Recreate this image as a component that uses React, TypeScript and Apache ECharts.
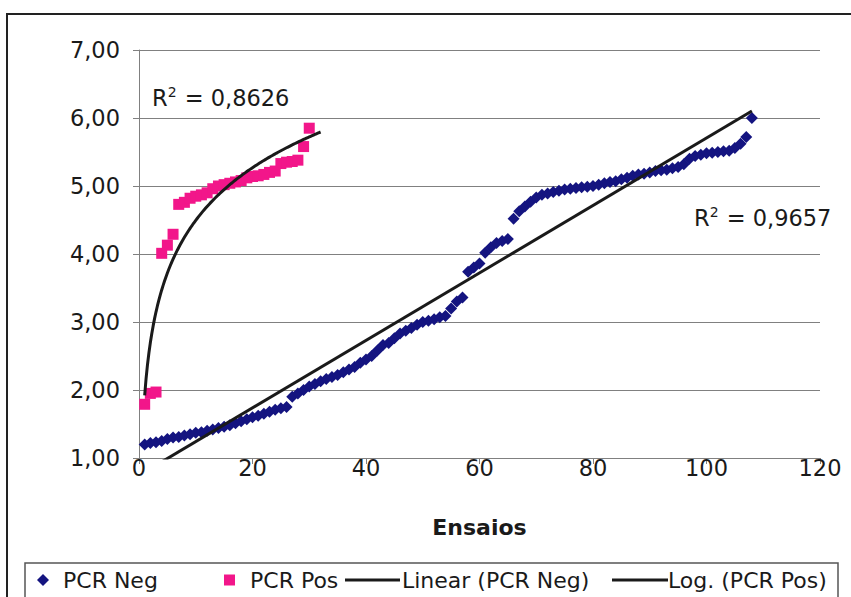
import React, { useEffect, useRef } from "react";
import * as echarts from "echarts";

const negValues: number[] = [
  1.20, 1.22, 1.23, 1.25, 1.28, 1.30, 1.31, 1.33, 1.35, 1.37,
  1.38, 1.40, 1.42, 1.44, 1.46, 1.48, 1.51, 1.54, 1.57, 1.60,
  1.62, 1.65, 1.68, 1.71, 1.73, 1.75, 1.90, 1.95, 2.00, 2.05,
  2.09, 2.13, 2.16, 2.19, 2.22, 2.26, 2.30, 2.34, 2.40, 2.45,
  2.50, 2.58, 2.66, 2.69, 2.76, 2.83, 2.87, 2.91, 2.96, 3.00,
  3.02, 3.04, 3.07, 3.09, 3.20, 3.30, 3.36, 3.74, 3.80, 3.86,
  4.02, 4.10, 4.16, 4.19, 4.22, 4.52, 4.63, 4.70, 4.77, 4.83,
  4.87, 4.89, 4.91, 4.93, 4.95, 4.96, 4.97, 4.98, 4.99, 5.00,
  5.02, 5.04, 5.06, 5.07, 5.10, 5.12, 5.15, 5.17, 5.18, 5.20,
  5.22, 5.23, 5.24, 5.26, 5.28, 5.32, 5.40, 5.44, 5.46, 5.48,
  5.49, 5.50, 5.51, 5.52, 5.56, 5.62, 5.72, 6.00,
];

const posValues: number[] = [
  1.79, 1.95, 1.97, 4.01, 4.13, 4.29, 4.73, 4.76, 4.82, 4.85,
  4.87, 4.90, 4.96, 5.00, 5.02, 5.04, 5.06, 5.08, 5.12, 5.14,
  5.15, 5.17, 5.20, 5.22, 5.33, 5.35, 5.36, 5.38, 5.58, 5.85,
];

const r2Labels: string[] = ["0,8626", "0,9657"];
const seriesNames: string[] = ["PCR Neg", "PCR Pos", "Linear (PCR Neg)", "Log. (PCR Pos)"];
const xAxisName = "Ensaios";

function fit(xs: number[], ys: number[]): [number, number] {
  const n = xs.length;
  const mx = xs.reduce((a, b) => a + b, 0) / n;
  const my = ys.reduce((a, b) => a + b, 0) / n;
  let sxy = 0, sxx = 0;
  for (let i = 0; i < n; i++) {
    sxy += (xs[i] - mx) * (ys[i] - my);
    sxx += (xs[i] - mx) * (xs[i] - mx);
  }
  const slope = sxy / sxx;
  return [slope, my - slope * mx];
}

const FONT = "DejaVu Sans";
const TXT = "#1a1a1a";
const FS = 22.5;

export default function App() {
  const ref = useRef<HTMLDivElement>(null);
  useEffect(() => {
    if (!ref.current) return;
    document.body.style.margin = "0";
    const chart = echarts.init(ref.current, undefined, { renderer: "svg" });

    const negData = negValues.map((v, i) => [i + 1, v]);
    const posData = posValues.map((v, i) => [i + 1, v]);

    const [la, lb] = fit(negValues.map((_, i) => i + 1), negValues);
    const linData = [
      [1, la * 1 + lb],
      [negValues.length, la * negValues.length + lb],
    ];
    const [ga, gb] = fit(posValues.map((_, i) => Math.log(i + 1)), posValues);
    const logData: number[][] = [];
    for (let x = 1; x <= posValues.length + 2 + 1e-9; x += 0.25) {
      logData.push([x, ga * Math.log(x) + gb]);
    }

    const legendBase = {
      orient: "horizontal" as const,
      top: 569,
      padding: 0,
      textStyle: { fontFamily: FONT, fontSize: 22, color: TXT },
      selectedMode: false,
    };

    const r2Rich = {
      b: { fontFamily: FONT, fontSize: FS, fill: TXT, verticalAlign: "bottom" },
      s: { fontFamily: FONT, fontSize: 14, fill: TXT, verticalAlign: "top", padding: [0, 1, 10, 0] },
    };

    chart.setOption({
      animation: false,
      backgroundColor: "#ffffff",
      grid: { left: 139, right: 31, top: 50, bottom: 139, containLabel: false },
      xAxis: {
        type: "value",
        min: 0,
        max: 120,
        interval: 20,
        name: xAxisName,
        nameLocation: "middle",
        nameGap: 58,
        nameTextStyle: { fontFamily: FONT, fontSize: 22, fontWeight: "bold", color: TXT },
        axisLine: { show: true, lineStyle: { color: "#808080", width: 1 } },
        axisTick: { show: true, length: 6, lineStyle: { color: "#808080" } },
        axisLabel: { fontFamily: FONT, fontSize: FS, color: TXT, margin: -2 },
        splitLine: { show: false },
      },
      yAxis: {
        type: "value",
        min: 1,
        max: 7,
        interval: 1,
        axisLine: { show: true, lineStyle: { color: "#808080", width: 1 } },
        axisTick: { show: true, length: 6, lineStyle: { color: "#808080" } },
        axisLabel: {
          fontFamily: FONT,
          fontSize: FS,
          color: TXT,
          margin: 19,
          formatter: (v: number) => v.toFixed(2).replace(".", ","),
        },
        splitLine: { show: true, lineStyle: { color: "#808080", width: 1 } },
      },
      legend: [
        {
          ...legendBase,
          left: 37,
          itemWidth: 12,
          itemHeight: 12,
          data: [{ name: seriesNames[0], icon: "diamond" }],
          textStyle: { ...legendBase.textStyle, padding: [0, 0, 0, 9] },
        },
        {
          ...legendBase,
          left: 224,
          itemWidth: 11,
          itemHeight: 11,
          data: [{ name: seriesNames[1], icon: "rect" }],
          textStyle: { ...legendBase.textStyle, padding: [0, 0, 0, 10] },
        },
        {
          ...legendBase,
          left: 345,
          itemWidth: 55,
          itemHeight: 3,
          data: [{ name: seriesNames[2], icon: "rect" }],
          textStyle: { ...legendBase.textStyle, padding: [0, 0, 0, -3] },
        },
        {
          ...legendBase,
          left: 612,
          itemWidth: 56,
          itemHeight: 3,
          data: [{ name: seriesNames[3], icon: "rect" }],
          textStyle: { ...legendBase.textStyle, padding: [0, 0, 0, -5] },
        },
      ],
      graphic: [
        {
          type: "rect",
          shape: { x: 7, y: 14, width: 900, height: 640 },
          style: { fill: "none", stroke: "#222222", lineWidth: 2 },
          silent: true,
          z: -1,
        },
        {
          type: "rect",
          shape: { x: 25, y: 563, width: 813, height: 60 },
          style: { fill: "none", stroke: "#555555", lineWidth: 1.5 },
          silent: true,
        },
        {
          type: "text",
          left: 152,
          top: 85,
          style: { text: "{b|R}{s|2}{b| = " + r2Labels[0] + "}", rich: r2Rich },
        },
        {
          type: "text",
          left: 694,
          top: 205,
          style: { text: "{b|R}{s|2}{b| = " + r2Labels[1] + "}", rich: r2Rich },
        },
      ],
      series: [
        {
          name: seriesNames[0],
          type: "scatter",
          symbol: "diamond",
          symbolSize: 12,
          itemStyle: { color: "#141480", opacity: 1 },
          data: negData,
          z: 2,
        },
        {
          name: seriesNames[1],
          type: "scatter",
          symbol: "rect",
          symbolSize: 11,
          itemStyle: { color: "#f2168a", opacity: 1 },
          data: posData,
          z: 2,
        },
        {
          name: seriesNames[2],
          type: "line",
          showSymbol: false,
          symbol: "none",
          clip: true,
          itemStyle: { color: "#1a1a1a" },
          lineStyle: { color: "#1a1a1a", width: 3 },
          data: linData,
          z: 3,
        },
        {
          name: seriesNames[3],
          type: "line",
          showSymbol: false,
          symbol: "none",
          clip: true,
          itemStyle: { color: "#1a1a1a" },
          lineStyle: { color: "#1a1a1a", width: 3 },
          data: logData,
          z: 3,
        },
      ],
    });
    return () => chart.dispose();
  }, []);
  return <div ref={ref} style={{ width: 851, height: 597 }} />;
}
